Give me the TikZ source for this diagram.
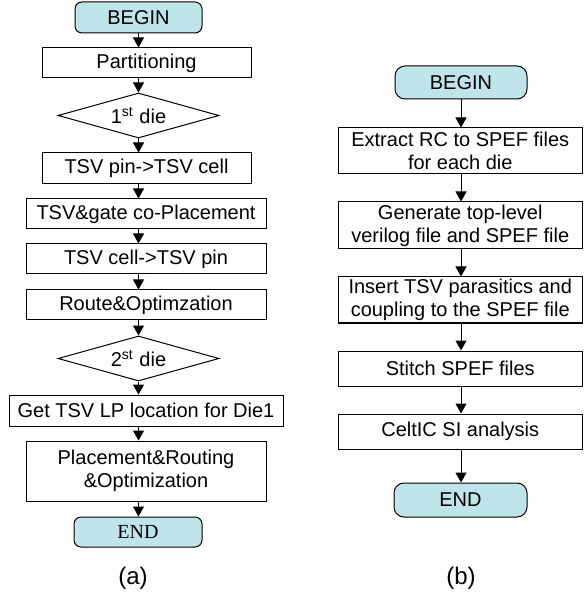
\documentclass[tikz,border=0pt]{standalone}
\usepackage{fontspec}
\setmainfont{Liberation Sans}
\newfontfamily\serifend{Liberation Serif}
\definecolor{TermCyan}{RGB}{191,228,233}
\usetikzlibrary{arrows.meta, shapes.geometric, positioning}

\begin{document}
\begin{tikzpicture}[x=0.5pt, y=-0.5pt,
    every node/.style={font=\fontsize{10}{11.5}\selectfont},
    term/.style={draw, line width=0.5pt, rounded corners=3.5pt, fill=TermCyan,
      inner sep=1pt},
    procbox/.style={draw, line width=0.5pt, inner sep=1pt, align=center},
    decision/.style={draw, line width=0.5pt, diamond, shape aspect=3.5,
      inner sep=0pt, minimum width=80.5pt, minimum height=22.5pt},
    flow/.style={-{Triangle[width=5.5pt, length=5pt]}, line width=0.5pt},
    caption/.style={font=\fontsize{12}{14}\selectfont}]
  \useasboundingbox (0,0) rectangle (583,603);

  % (a) flow of the 3D design
  \node[term, minimum width=63.5pt, minimum height=15.5pt] (beginA) at (138.5,17.5) {BEGIN};
  \node[procbox, minimum width=104.5pt, minimum height=15pt] (part) at (146.5,63) {Partitioning};
  \node[decision] (dieA) at (138.5,115.5) {1\textsuperscript{st} die};
  \node[procbox, minimum width=104.5pt, minimum height=15.5pt] (pincell) at (146.5,168.5) {TSV pin->TSV cell};
  \node[procbox, minimum width=120pt, minimum height=15pt] (coplace) at (146,214) {TSV\&gate co-Placement};
  \node[procbox, minimum width=120pt, minimum height=15pt] (cellpin) at (146,259) {TSV cell->TSV pin};
  \node[procbox, minimum width=120pt, minimum height=15pt] (route) at (146,305) {Route\&Optimzation};
  \node[decision] (dieB) at (138.5,358.5) {2\textsuperscript{st} die};
  \node[procbox, minimum width=137pt, minimum height=15.5pt] (lploc) at (146,410.5) {Get TSV LP location for Die1};
  \node[procbox, minimum width=120pt, minimum height=30pt] (pnr) at (146,471) {Placement\&Routing\\\&Optimization};
  \node[term, minimum width=64pt, minimum height=15pt] (endA) at (138,532) {\serifend END};
  \node[caption] (capA) at (133,578) {(a)};

  \foreach \a/\b in {beginA/part, part/dieA, dieA/pincell, pincell/coplace,
      coplace/cellpin, cellpin/route, route/dieB, dieB/lploc, lploc/pnr, pnr/endA}
    \draw[flow] (\a.south -| beginA) -- (\b.north -| beginA);

  % (b) SI analysis flow
  \node[term, rounded corners=5pt, minimum width=66pt, minimum height=16.5pt] (beginB) at (461,82.5) {BEGIN};
  \node[procbox, minimum width=122.25pt, minimum height=23pt] (extract) at (460.25,151) {Extract RC to SPEF files\\for each die};
  \node[procbox, minimum width=122.25pt, minimum height=23.5pt] (toplevel) at (460.25,225.5) {Generate top-level\\verilog file and SPEF file};
  \node[procbox, minimum width=122.25pt, minimum height=23pt] (insert) at (460.25,300) {Insert TSV parasitics and\\coupling to the SPEF file};
  \node[procbox, minimum width=122.25pt, minimum height=17.5pt] (stitch) at (460.25,368.5) {Stitch SPEF files};
  \node[procbox, minimum width=122.25pt, minimum height=17.5pt] (celtic) at (460.25,431.5) {CeltIC SI analysis};
  \node[term, rounded corners=5pt, minimum width=66.5pt, minimum height=17pt] (endB) at (460.5,500) {END};
  \node[caption] (capB) at (461,578) {(b)};

  \foreach \a/\b in {beginB/extract, extract/toplevel, toplevel/insert,
      insert/stitch, stitch/celtic, celtic/endB}
    \draw[flow] (\a.south -| beginB) -- (\b.north -| beginB);
\end{tikzpicture}
\end{document}
